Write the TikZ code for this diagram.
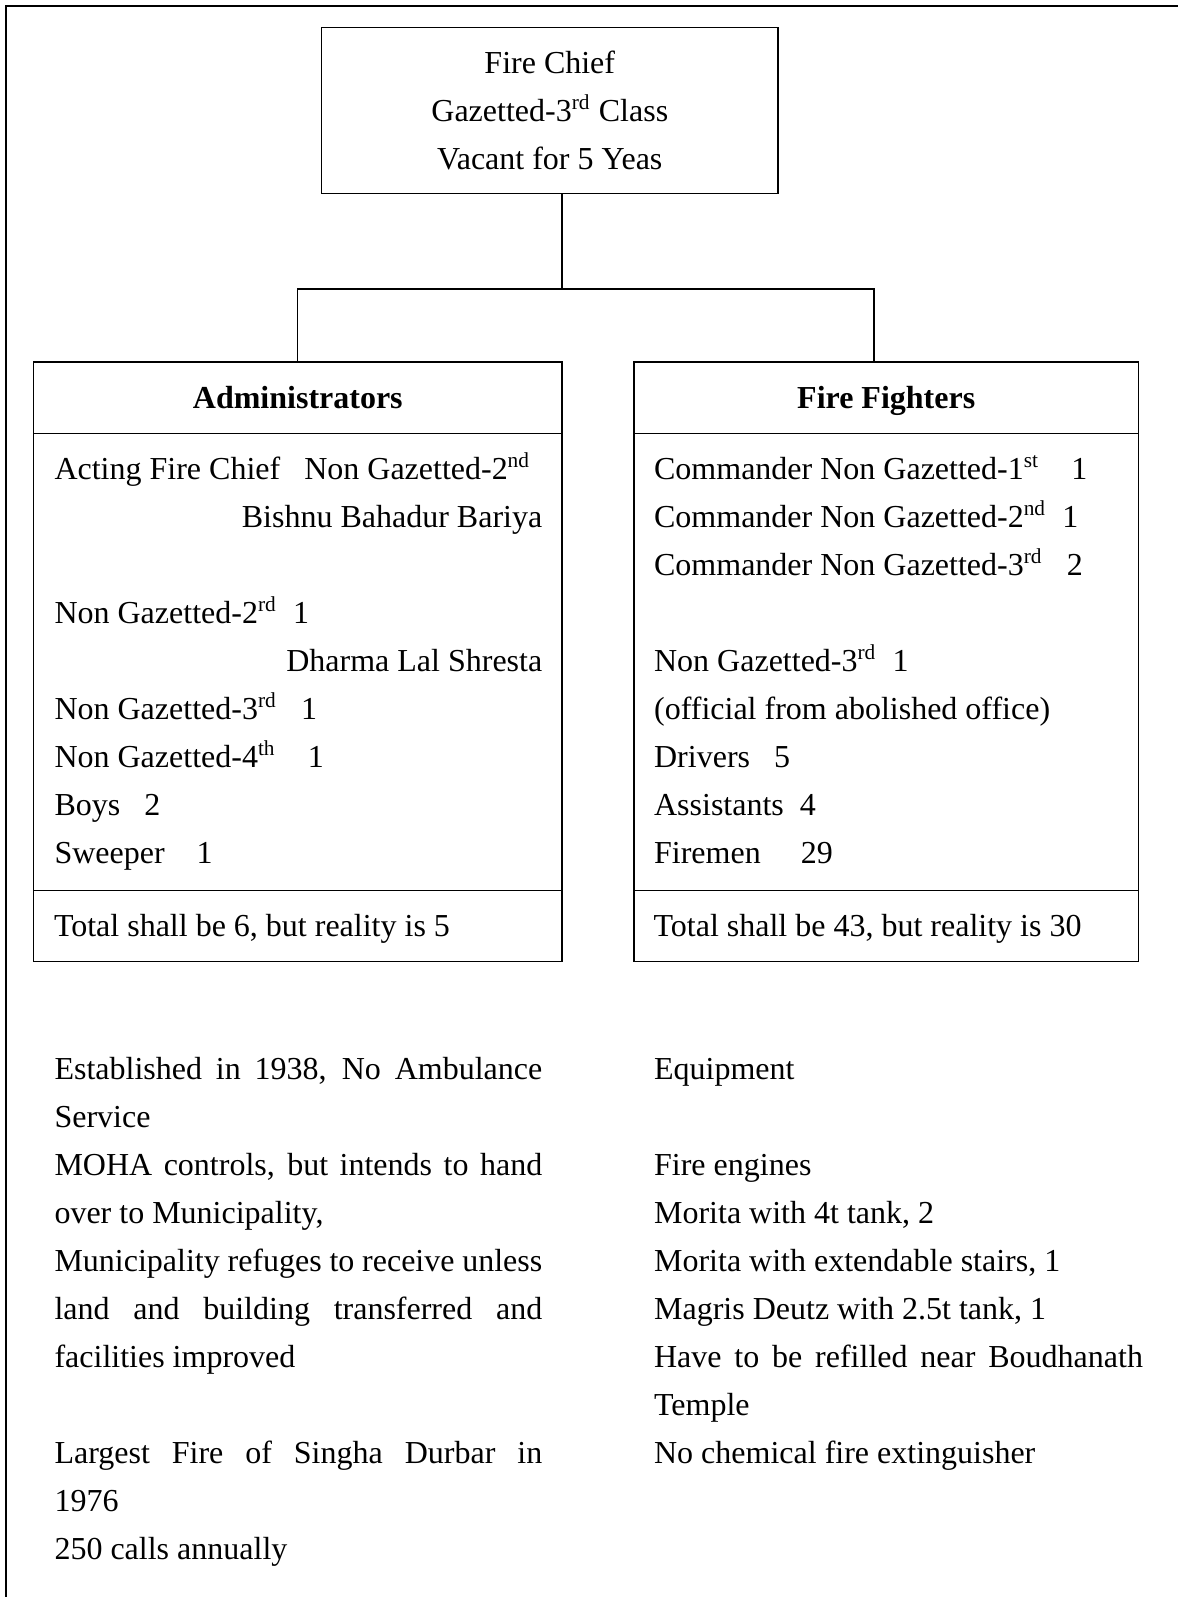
\documentclass[tikz,border=0pt,12pt]{standalone}
\usepackage{fontspec}
\setmainfont{Liberation Serif}
\usetikzlibrary{positioning}
\hbadness=10000
\begin{document}
\begin{tikzpicture}[x=0.375pt,y=-0.375pt,
		font=\fontsize{12}{18}\selectfont,
		box/.style={draw,line width=0.6pt,inner sep=0pt,outer sep=0pt},
		head/.style={box,text height=8pt,text depth=0pt,font=\fontsize{12}{18}\selectfont\bfseries},
		total/.style={box,align=flush left,text height=8pt,text depth=0pt},
		txt/.style={anchor=base west,inner sep=0pt},
		link/.style={line width=0.45pt}]
	\useasboundingbox (0,0) rectangle (1178,1597);
	\draw [line width=0.8pt] (6,1597) -- (6,5.7) -- (1178,5.7);
	\node[box,minimum width=171.15pt,minimum height=62.25pt,text width=160pt,align=flush center] (chief) at (549.8,110.5) {Fire Chief\\Gazetted-3\textsuperscript{rd} Class\\Vacant for 5 Yeas};
	\node[head,minimum width=198.15pt,minimum height=26.8pt,anchor=north west] (admhead) at (33.6,362) {Administrators};
	\node[box,minimum width=198.15pt,minimum height=171.4pt,below=0pt of admhead] (admbody) {};
	\node[total,minimum height=26.6pt,text width=182.85pt,inner xsep=7.65pt,below=0pt of admbody] (admtotal) {Total shall be 6, but reality is 5};
	\node[head,minimum width=189.15pt,minimum height=26.8pt,anchor=north west] (ffhead) at (634,362) {Fire Fighters};
	\node[box,minimum width=189.15pt,minimum height=171.4pt,below=0pt of ffhead] (ffbody) {};
	\node[total,minimum height=26.6pt,text width=174.45pt,inner xsep=7.35pt,below=0pt of ffbody] (fftotal) {Total shall be 43, but reality is 30};
	\coordinate (bar) at (562,289);
	\coordinate (knee) at (874,289);
	\draw[link] (chief.south -| bar) -- (bar);
	\draw[link] (admhead.north) |- (knee) -- (knee |- ffhead.north);
	\node[txt,text width=182.9pt,align=flush left] (admlist) at (54,479) {Acting Fire Chief\ \ \ Non Gazetted-2\textsuperscript{nd}\\
		\hspace*{\fill}Bishnu Bahadur Bariya\\
		\mbox{}\\
		Non Gazetted-2\textsuperscript{rd}\ \ 1\\
		\hspace*{\fill}Dharma Lal Shresta\\
		Non Gazetted-3\textsuperscript{rd}\ \ \ 1\\
		Non Gazetted-4\textsuperscript{th}\ \ \ \ 1\\
		Boys\ \ \ 2\\
		Sweeper\ \ \ \ 1};
	\node[txt,text width=180pt,align=flush left] (fflist) at (653.6,479) {Commander Non Gazetted-1\textsuperscript{st}\ \ \ \ 1\\
		Commander Non Gazetted-2\textsuperscript{nd}\ \ 1\\
		Commander Non Gazetted-3\textsuperscript{rd}\ \ \ 2\\
		\mbox{}\\
		Non Gazetted-3\textsuperscript{rd}\ \ 1\\
		(official from abolished office)\\
		Drivers\ \ \ 5\\
		Assistants\ \ 4\\
		Firemen\ \ \ \ \ 29};
	\node[txt,text width=182.9pt,align=justify] (notes) at (54,1079) {Established in 1938, No Ambulance\linebreak Service\\
		MOHA controls, but intends to hand\linebreak over to Municipality,\\
		Municipality refuges to receive unless\linebreak land and building transferred and\linebreak facilities improved\\
		\mbox{}\\
		Largest Fire of Singha Durbar in\linebreak 1976\\
		250 calls annually};
	\node[txt,text width=183.3pt,align=justify] (equip) at (653.6,1079) {Equipment\\
		\mbox{}\\
		Fire engines\\
		Morita with 4t tank, 2\\
		Morita with extendable stairs, 1\\
		Magris Deutz with 2.5t tank, 1\\
		Have to be refilled near Boudhanath\linebreak Temple\\
		No chemical fire extinguisher};
\end{tikzpicture}
\end{document}
